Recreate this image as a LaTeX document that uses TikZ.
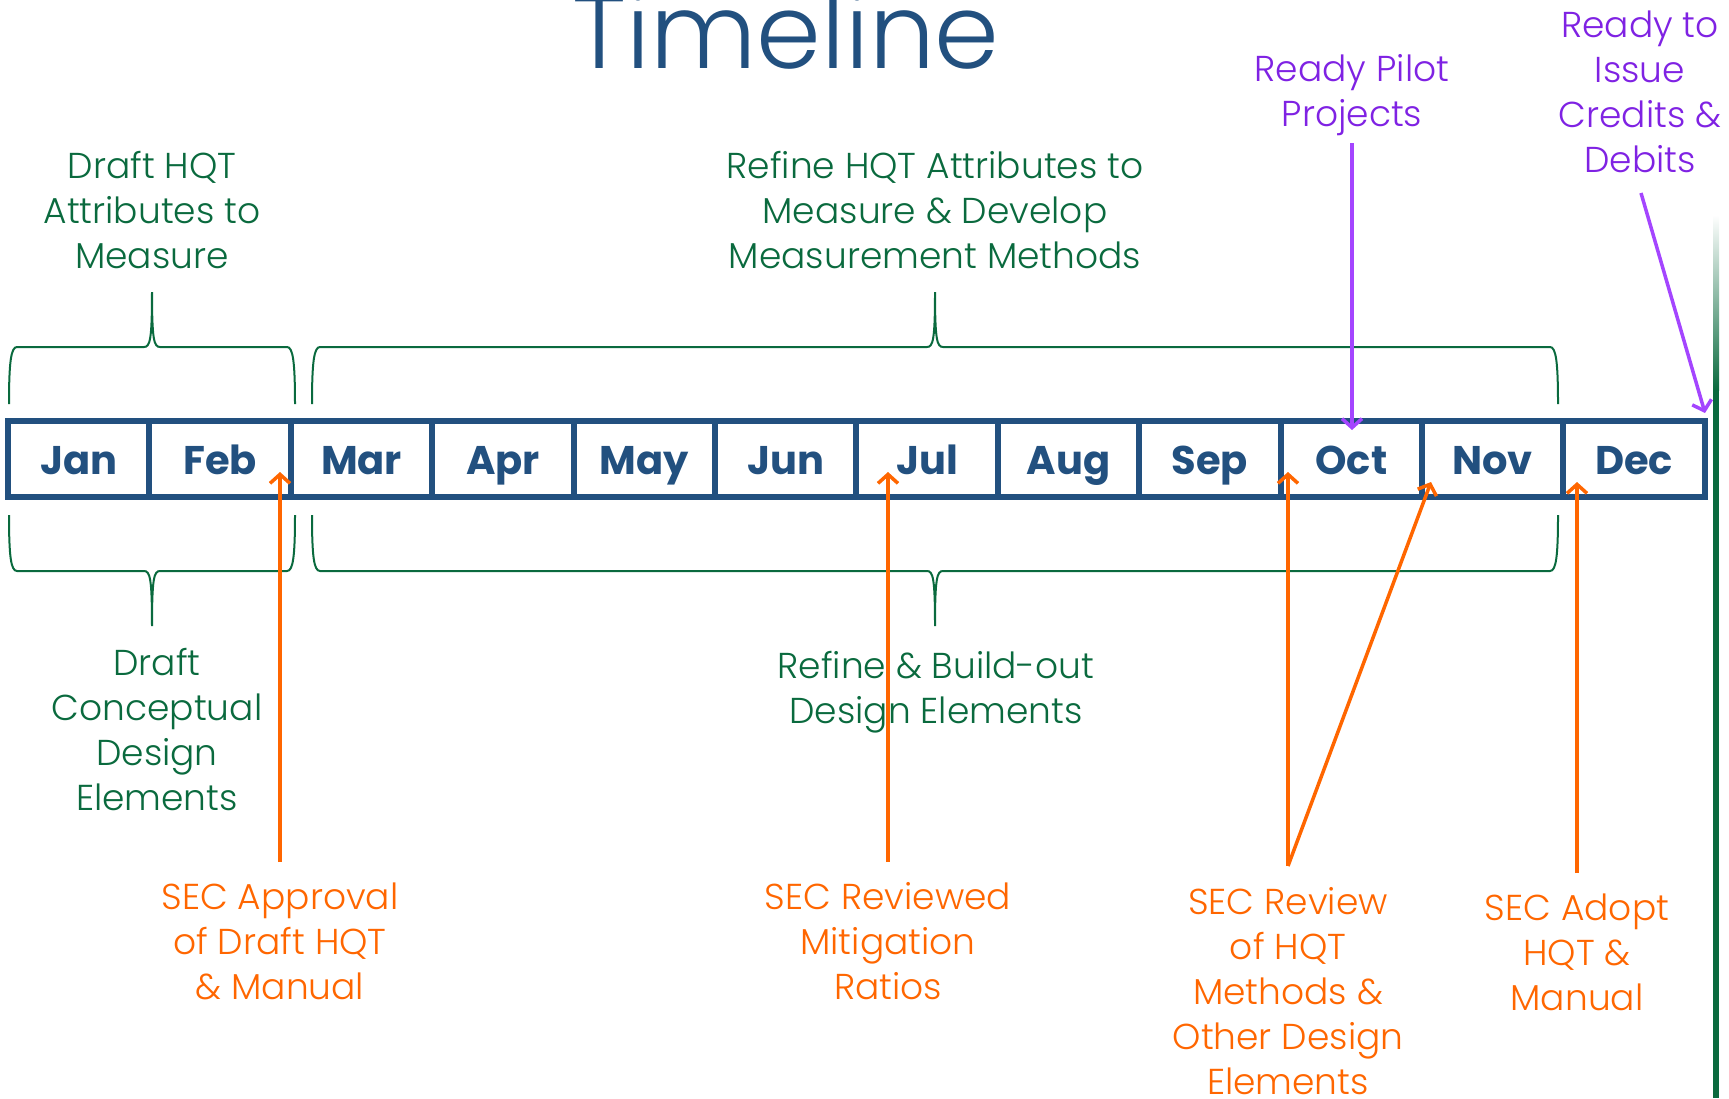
\documentclass[tikz,border=0pt]{standalone}
\usepackage{fontspec}
\setmainfont{Poppins}
\newfontfamily\lightfont{Poppins Light}
\usetikzlibrary{arrows.meta}
\definecolor{tblue}{HTML}{22507F}
\definecolor{tgreen}{HTML}{0A6A3E}
\definecolor{torange}{HTML}{FF6600}
\definecolor{tpurple}{HTML}{7F22E3}
\definecolor{apurple}{HTML}{A445FF}
\begin{document}
\begin{tikzpicture}[x=1pt,y=-1pt,
  lbl/.style={align=center,inner sep=0pt,font=\lightfont\fontsize{36}{45}\selectfont},
  gl/.style={lbl,text=tgreen},
  ol/.style={lbl,text=torange},
  pl/.style={lbl,text=tpurple},
  cell/.style={draw=tblue,line width=6pt,minimum width=141.4pt,minimum height=76pt,inner sep=0pt,
    text height=30pt,text depth=0pt,text=tblue,font=\fontsize{40}{50}\selectfont\bfseries},
  brace/.style={draw=tgreen,line width=2pt},
  oarrow/.style={draw=torange,line width=3.5pt,-{Straight Barb[length=9pt,width=20pt]}},
  parrow/.style={draw=apurple,line width=3.5pt,-{Straight Barb[length=9pt,width=20pt]}},
]
\useasboundingbox (0,0) rectangle (1729,1098);
% title
\node[anchor=base,text=tblue,font=\lightfont\fontsize{104}{110}\selectfont,inner sep=0pt] (title) at (786,68) {Timeline};
% months
\foreach \m [count=\k from 0] in {Jan,Feb,Mar,Apr,May,Jun,Jul,Aug,Sep,Oct,Nov,Dec}{
  \node[cell] (m\k) at ({8+141.4*(\k+0.5)},459) {\m};
}
% upper braces
\draw[brace] (9,404) .. controls (9,362) and (11,347) .. (17,347) -- (144,347)
  .. controls (150,347) and (152,340) .. (152,292)
  .. controls (152,340) and (154,347) .. (160,347) -- (287,347)
  .. controls (293,347) and (295,362) .. (295,404);
\draw[brace] (312,404) .. controls (312,362) and (314,347) .. (320,347) -- (927,347)
  .. controls (933,347) and (935,340) .. (935,292)
  .. controls (935,340) and (937,347) .. (943,347) -- (1550,347)
  .. controls (1556,347) and (1558,362) .. (1558,404);
% lower braces
\draw[brace] (9,515) .. controls (9,557) and (11,571) .. (17,571) -- (144,571)
  .. controls (150,571) and (152,578) .. (152,626)
  .. controls (152,578) and (154,571) .. (160,571) -- (287,571)
  .. controls (293,571) and (295,557) .. (295,515);
\draw[brace] (312,515) .. controls (312,557) and (314,571) .. (320,571) -- (927,571)
  .. controls (933,571) and (935,578) .. (935,626)
  .. controls (935,578) and (937,571) .. (943,571) -- (1550,571)
  .. controls (1556,571) and (1558,557) .. (1558,515);
% green labels
\node[gl] (dhqt) at (152,210) {Draft HQT\\Attributes to\\Measure};
\node[gl] (refine) at (935,210) {Refine HQT Attributes to\\Measure \& Develop\\Measurement Methods};
\node[gl] (dcde) at (157,730) {Draft\\Conceptual\\Design\\Elements};
\node[gl] (rbo) at (936,692) {Refine \& Build-out\\Design Elements};
% purple labels
\node[pl] (pilot) at (1352,95) {Ready Pilot\\Projects};
\node[pl] (issue) at (1640,92) {Ready to\\Issue\\Credits \&\\Debits};
% orange labels
\node[ol] (sec1) at (280,941) {SEC Approval\\of Draft HQT\\\& Manual};
\node[ol] (sec2) at (888,941) {SEC Reviewed\\Mitigation\\Ratios};
\node[ol] (sec3) at (1288,991) {SEC Review\\of HQT\\Methods \&\\Other Design\\Elements};
\node[ol] (sec4) at (1577,952) {SEC Adopt\\HQT \&\\Manual};
% right green rule
\shade[top color=white,bottom color=tgreen] (1713,215) rectangle (1719,390);
\fill[tgreen] (1713,390) rectangle (1719,1098);
% arrow coordinates
\coordinate (a1s) at (280,862); \coordinate (a1e) at (280,472);
\coordinate (a2s) at (888,862); \coordinate (a2e) at (888,472);
\coordinate (a3s) at (1288,866); \coordinate (a3e) at (1288,472);
\coordinate (a4e) at (1431,482);
\coordinate (a5s) at (1577,873); \coordinate (a5e) at (1577,482);
\coordinate (p1s) at (1352,143); \coordinate (p1e) at (1352,430);
\coordinate (p2s) at (1641,193); \coordinate (p2e) at (1705,413);
\draw[oarrow] (a1s) -- (a1e);
\draw[oarrow] (a2s) -- (a2e);
\draw[oarrow] (a3s) -- (a3e);
\draw[oarrow] (a3s) -- (a4e);
\draw[oarrow] (a5s) -- (a5e);
\draw[parrow] (p1s) -- (p1e);
\draw[parrow] (p2s) -- (p2e);
\end{tikzpicture}
\end{document}
